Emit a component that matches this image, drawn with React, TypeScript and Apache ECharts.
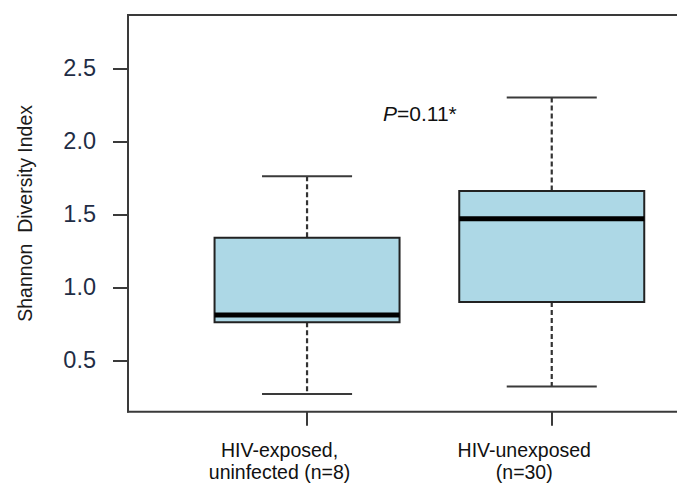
import React, { useEffect, useRef } from "react";
import * as echarts from "echarts";

const categories = ["HIV-exposed,\nuninfected (n=8)", "HIV-unexposed\n(n=30)"];
const lowerWhisker = [0.27, 0.32];
const q1Values = [0.76, 0.9];
const medianValues = [0.81, 1.47];
const q3Values = [1.34, 1.66];
const upperWhisker = [1.76, 2.3];
const yTicks = [0.5, 1.0, 1.5, 2.0, 2.5];
const yTitle = "Shannon  Diversity Index";
const pText = "=0.11*";

const FONT = "'Liberation Sans', Arial, sans-serif";
const LINE = "#3a3a3a";

export default function App() {
  const ref = useRef<HTMLDivElement>(null);
  useEffect(() => {
    document.body.style.margin = "0";
    const chart = echarts.init(ref.current!, null, { renderer: "svg" });
    const data = categories.map((_, i) => [
      i,
      lowerWhisker[i],
      q1Values[i],
      medianValues[i],
      q3Values[i],
      upperWhisker[i],
    ]);
    const gridLeft = 184.7;
    const axisX = 128;
    const top = 15;
    const bottomY = 411.7;
    chart.setOption({
      animation: false,
      grid: { left: gridLeft, right: 2.9, top: top, bottom: 485 - bottomY },
      xAxis: {
        type: "category",
        data: categories,
        boundaryGap: true,
        axisLine: { show: false },
        axisTick: { show: true, alignWithLabel: true, length: 14, lineStyle: { color: LINE, width: 2 } },
        axisLabel: {
          margin: 27,
          fontFamily: FONT,
          fontSize: 19.5,
          lineHeight: 22,
          color: "#111",
          padding: [0, 55, 0, 0],
        },
        splitLine: { show: false },
      },
      yAxis: {
        type: "value",
        min: 0.148,
        max: 2.865,
        offset: gridLeft - axisX,
        name: yTitle,
        nameLocation: "middle",
        nameRotate: 90,
        nameGap: 93,
        nameTextStyle: { fontFamily: FONT, fontSize: 19.5, color: "#1a1a1a" },
        axisLine: { show: true, lineStyle: { color: LINE, width: 2 } },
        axisTick: { show: true, length: 15, customValues: yTicks, lineStyle: { color: LINE, width: 2 } },
        axisLabel: {
          customValues: yTicks,
          formatter: (v: number) => v.toFixed(1),
          margin: 32,
          fontFamily: FONT,
          fontSize: 23.5,
          color: "#1f2d45",
        },
        splitLine: { show: false },
      },
      graphic: [
        {
          type: "polyline",
          shape: {
            points: [
              [677, top],
              [axisX, top],
              [axisX, bottomY],
              [677, bottomY],
            ],
          },
          style: { stroke: LINE, lineWidth: 2, fill: null },
          z: 10,
        },
        {
          type: "text",
          x: 383,
          y: 113,
          style: {
            text: "{a|P}{b|" + pText + "}",
            verticalAlign: "middle",
            rich: {
              a: { fontFamily: FONT, fontSize: 21, fontStyle: "italic", fill: "#111" },
              b: { fontFamily: FONT, fontSize: 21, fill: "#111" },
            },
          },
        },
      ],
      series: [
        {
          type: "custom",
          data: data,
          encode: { x: 0, y: [1, 2, 3, 4, 5] },
          renderItem: (params: any, api: any) => {
            const idx = api.value(0);
            const low = api.coord([idx, api.value(1)]);
            const q1 = api.coord([idx, api.value(2)]);
            const med = api.coord([idx, api.value(3)]);
            const q3 = api.coord([idx, api.value(4)]);
            const high = api.coord([idx, api.value(5)]);
            const band = api.size([1, 0])[0];
            const boxW = band * 0.756;
            const capW = band * 0.368;
            const cx = low[0];
            const whiskerStyle = { stroke: "#333", lineWidth: 2.2, lineDash: [5, 3] };
            const solid = { stroke: LINE, lineWidth: 2 };
            return {
              type: "group",
              children: [
                { type: "line", shape: { x1: cx, y1: high[1], x2: cx, y2: q3[1] }, style: whiskerStyle },
                { type: "line", shape: { x1: cx, y1: q1[1], x2: cx, y2: low[1] }, style: whiskerStyle },
                { type: "line", shape: { x1: cx - capW / 2, y1: high[1], x2: cx + capW / 2, y2: high[1] }, style: solid },
                { type: "line", shape: { x1: cx - capW / 2, y1: low[1], x2: cx + capW / 2, y2: low[1] }, style: solid },
                {
                  type: "rect",
                  shape: { x: cx - boxW / 2, y: q3[1], width: boxW, height: q1[1] - q3[1] },
                  style: { fill: "#add8e6", stroke: "#222", lineWidth: 2 },
                },
                {
                  type: "line",
                  shape: { x1: cx - boxW / 2, y1: med[1], x2: cx + boxW / 2, y2: med[1] },
                  style: { stroke: "#000", lineWidth: 5 },
                },
              ],
            };
          },
        },
      ],
    });
    return () => chart.dispose();
  }, []);
  return <div ref={ref} style={{ width: 677, height: 485 }} />;
}
